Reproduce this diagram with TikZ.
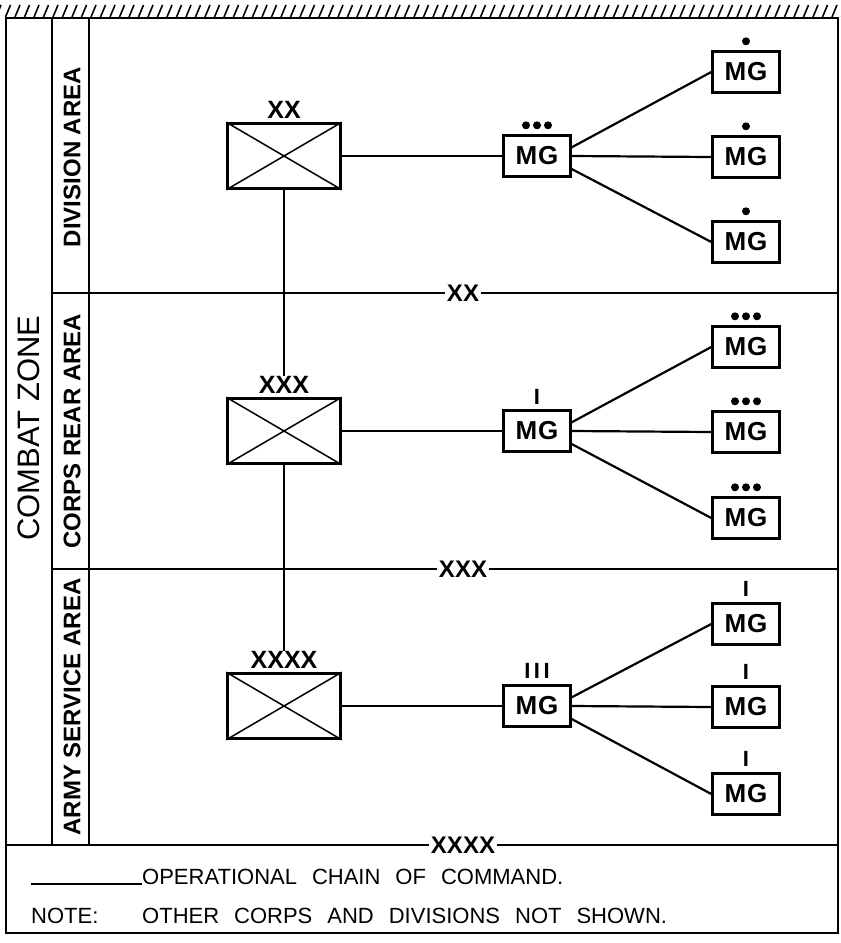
\documentclass[tikz,border=0pt]{standalone}
\usepackage{fontspec}
\setmainfont{Liberation Sans}
\usetikzlibrary{calc}
\newcommand{\mgtext}{M\kern1pt G}
\begin{document}
\begin{tikzpicture}[x=1pt,y=-1pt,
  frame/.style={line width=2.2pt},
  link/.style={line width=2.2pt},
  hq/.style={draw,line width=2.6pt,minimum width=113pt,minimum height=65pt,inner sep=0pt},
  mg/.style={draw,line width=2.4pt,minimum width=67pt,minimum height=41pt,inner sep=0pt,font=\fontsize{26}{26}\selectfont\bfseries},
  ech/.style={font=\fontsize{25}{25}\selectfont\bfseries,inner sep=0pt,anchor=south},
  bar/.style={font=\fontsize{22}{22}\selectfont\bfseries,inner sep=0pt,anchor=south},
  bnd/.style={fill=white,inner sep=2pt,font=\fontsize{24}{24}\selectfont\bfseries},
  area/.style={rotate=90,font=\fontsize{24}{24}\selectfont\bfseries,inner sep=0pt},
  dotm/.style={circle,fill,inner sep=0pt,minimum size=8pt},
  leg/.style={font={\fontsize{22}{22}\selectfont\spaceskip=15pt\relax},anchor=base west,inner sep=0pt}]
\useasboundingbox (0,0) rectangle (841,943);
% hatching along the top
\begin{scope}
\clip (0,0) rectangle (841,20);
\foreach \x in {-4,5.5,...,846} \draw[line width=1.6pt] (\x,17) -- (\x+5,5);
\end{scope}
% frame
\draw[frame] (6,18) rectangle (838,933);
\draw[frame] (52,18) -- (52,845);
\draw[frame] (89,18) -- (89,845);
\draw[frame] (52,293) -- (838,293);
\draw[frame] (52,569) -- (838,569);
\draw[frame] (6,845) -- (838,845);
\node[bnd] (b1) at (463,293) {XX};
\node[bnd] (b2) at (463,569) {XXX};
\node[bnd] (b3) at (463,845) {XXXX};
% zone labels
\node[rotate=90,inner sep=0pt,font=\fontsize{31}{31}\selectfont] (cz) at (29,428) {COMBAT\ ZONE};
\node[area] (a1) at (72,157) {DIVISION AREA};
\node[area] (a2) at (72,431) {CORPS REAR AREA};
\node[area] (a3) at (72,707) {ARMY SERVICE AREA};
% headquarters
\node[hq] (h1) at (284,156) {};
\node[hq] (h2) at (284,431) {};
\node[hq] (h3) at (284,706) {};
\foreach \h in {h1,h2,h3} {
  \draw[line width=1.5pt] (\h.north west) -- (\h.south east);
  \draw[line width=1.5pt] (\h.south west) -- (\h.north east);
}
\node[ech] (e1) at ($(h1.north)+(0,-4)$) {XX};
\node[ech] (e2) at ($(h2.north)+(0,-4)$) {XXX};
\node[ech] (e3) at ($(h3.north)+(0,-4)$) {XXXX};
% MG groups
\node[mg] (m1) at (537,156) {\mgtext};
\node[mg] (m2) at (537,431) {\mgtext};
\node[mg] (m3) at (537,706) {\mgtext};
\node[mg] (d1) at (746,72) {\mgtext};
\node[mg] (d2) at (746,157) {\mgtext};
\node[mg] (d3) at (746,242) {\mgtext};
\node[mg] (c1) at (746,347) {\mgtext};
\node[mg] (c2) at (746,432) {\mgtext};
\node[mg] (c3) at (746,518) {\mgtext};
\node[mg] (r1) at (746,624) {\mgtext};
\node[mg] (r2) at (746,707) {\mgtext};
\node[mg] (r3) at (746,794) {\mgtext};
% echelon marks
\foreach \n in {m1,c1,c2,c3} {
  \node[dotm] at ($(\n.north)+(-11,-9)$) {};
  \node[dotm] at ($(\n.north)+(0,-9)$) {};
  \node[dotm] at ($(\n.north)+(11,-9)$) {};
}
\foreach \n in {d1,d2,d3} \node[dotm] at ($(\n.north)+(0,-9)$) {};
\node[bar] (i2) at ($(m2.north)+(0,-5)$) {I};
\node[bar] (i3) at ($(m3.north)+(0,-6)$) {I\kern3.5pt I\kern3.5pt I};
\foreach \n in {r1,r2,r3} \node[bar] at ($(\n.north)+(0,-6)$) {I};
% connectors
\draw[link] (h1.south) -- (e2.north);
\draw[link] (h2.south) -- (e3.north);
\draw[link] (h1.east) -- (m1.west);
\draw[link] (h2.east) -- (m2.west);
\draw[link] (h3.east) -- (m3.west);
\foreach \m/\a/\b/\c in {m1/d1/d2/d3,m2/c1/c2/c3,m3/r1/r2/r3} {
  \draw[link] ($(\m.north east)!0.3!(\m.south east)$) -- (\a.west);
  \draw[link] (\m.east) -- (\b.west);
  \draw[link] ($(\m.north east)!0.8!(\m.south east)$) -- (\c.west);
}
% legend
\coordinate (l0) at (31,884);
\node[leg] (lt) at (142,884) {OPERATIONAL CHAIN OF COMMAND.};
\draw[line width=1.8pt] (l0) -- (lt.base west);
\node[leg] (nt) at (31,923) {NOTE:};
\node[leg] (nx) at (142,923) {OTHER CORPS AND DIVISIONS NOT SHOWN.};
\end{tikzpicture}
\end{document}
